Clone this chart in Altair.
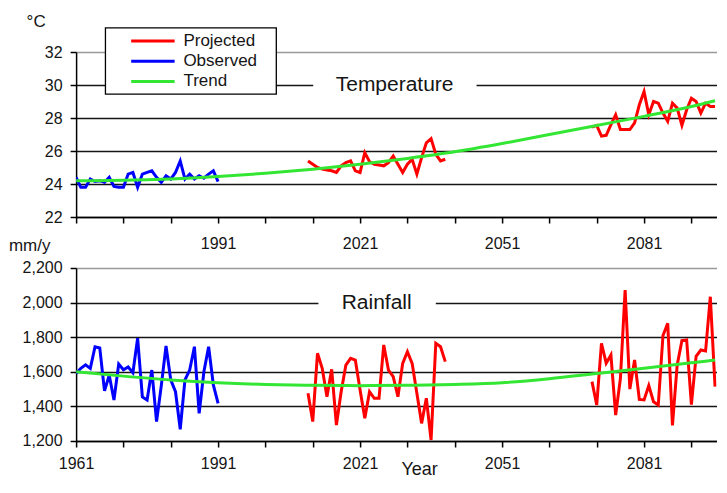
import altair as alt
import pandas as pd

# ---------------- data ----------------
OBS_YEARS = list(range(1961, 1992))
PROJ1_YEARS = list(range(2010, 2040))
PROJ2_YEARS = list(range(2070, 2097))
TREND_YEARS = [1961, 1971, 1981, 1991, 2001, 2011, 2021, 2031, 2041, 2051,
               2061, 2071, 2081, 2091, 2096]

TEMP_OBS = [24.4, 23.8, 23.8, 24.3, 24.15, 24.2, 24.1, 24.4, 23.85, 23.8, 23.8,
            24.6, 24.7, 23.8, 24.6, 24.7, 24.8, 24.4, 24.1, 24.5, 24.3, 24.7,
            25.4, 24.3, 24.6, 24.3, 24.5, 24.35, 24.6, 24.8, 24.15]
TEMP_PROJ1 = [25.4, 25.2, 25.0, 24.9, 24.85, 24.8, 24.7, 25.1, 25.3, 25.4, 24.8,
              24.7, 25.9, 25.35, 25.2, 25.15, 25.1, 25.3, 25.7, 25.2, 24.7, 25.2,
              25.5, 24.6, 25.6, 26.5, 26.75, 25.8, 25.4, 25.5]
TEMP_PROJ2 = [27.45, 27.55, 26.9, 26.95, 27.6, 28.2, 27.3, 27.3, 27.3, 27.7, 28.8,
              29.6, 28.2, 29.0, 28.9, 28.3, 27.8, 28.9, 28.6, 27.55, 28.5, 29.2,
              29.0, 28.3, 28.9, 28.7, 28.7]
TEMP_TREND = [24.2, 24.22, 24.3, 24.45, 24.65, 24.9, 25.2, 25.55, 25.95, 26.45,
              27.0, 27.55, 28.1, 28.7, 29.05]

RAIN_OBS = [1590, 1620, 1640, 1620, 1745, 1738, 1490, 1580, 1437, 1645, 1612,
            1628, 1595, 1794, 1455, 1437, 1610, 1312, 1520, 1749, 1553, 1485,
            1268, 1553, 1610, 1745, 1360, 1600, 1745, 1524, 1418]
RAIN_PROJ1 = [1476, 1312, 1707, 1620, 1456, 1614, 1292, 1485, 1639, 1678, 1668,
              1495, 1331, 1485, 1447, 1447, 1755, 1610, 1572, 1456, 1649, 1716,
              1649, 1476, 1302, 1447, 1206, 1765, 1745, 1659]
RAIN_PROJ2 = [1543, 1408, 1765, 1650, 1697, 1350, 1560, 2073, 1500, 1668, 1440,
              1437, 1520, 1427, 1408, 1810, 1880, 1290, 1640, 1780, 1784, 1410,
              1690, 1726, 1720, 2034, 1514]
RAIN_TREND = [1600, 1575, 1553, 1537, 1527, 1522, 1520, 1522, 1527, 1537,
              1560, 1590, 1620, 1652, 1668]

SERIES = ["Projected", "Observed", "Trend"]
COLORS = ["#ff0000", "#0000ff", "#33e633"]
WIDTHS = [3, 3, 2]

X_TICKS = list(range(1961, 2092, 10))
TOP_LABELS = [1991, 2021, 2051, 2081]
BOTTOM_LABELS = [1961, 1991, 2021, 2051, 2081]
TEMP_TICKS = [22, 24, 26, 28, 30, 32]
RAIN_TICKS = [1200, 1400, 1600, 1800, 2000, 2200]

# panel caption annotations (data coordinates): label, centre, white box extent
TEMP_NOTE = {"label": "Temperature", "year": 2028.3, "value": 30,
             "year_a": 2011.1, "year_b": 2045.6, "value_a": 29.35, "value_b": 30.65}
RAIN_NOTE = {"label": "Rainfall", "year": 2024.5, "value": 2000,
             "year_a": 2012.2, "year_b": 2037.0, "value_a": 1938, "value_b": 2062}
# legend frame (data coordinates of the top panel)
LEGEND_FRAME = {"year_a": 1967.2, "year_b": 2003.3, "value_a": 29.45, "value_b": 33.46}

PLOT_W = 640.5
X_DOMAIN = [1961, 1961 + PLOT_W / 4.733]
FONT = "Liberation Sans"
TXT = "#151515"


def series_frame(obs, p1, p2, trend):
    rows = []
    for y, v in zip(OBS_YEARS, obs):
        rows.append({"year": y, "value": v, "series": "Observed", "seg": "obs"})
    for y, v in zip(PROJ1_YEARS, p1):
        rows.append({"year": y, "value": v, "series": "Projected", "seg": "p1"})
    for y, v in zip(PROJ2_YEARS, p2):
        rows.append({"year": y, "value": v, "series": "Projected", "seg": "p2"})
    data = pd.DataFrame(rows)
    tr = pd.DataFrame({"year": TREND_YEARS, "value": trend,
                       "series": "Trend", "seg": "trend"})
    return data, tr


def x_axis(labels, title, title_x, title_y, pad, title_align, title_size):
    return alt.Axis(
        values=X_TICKS, format="d",
        labelExpr=f"indexof({labels}, datum.value) >= 0 ? datum.label : ''",
        labelFlush=False, labelOverlap=False,
        labelFont=FONT, labelFontSize=16, labelColor=TXT, labelPadding=pad,
        tickSize=6, tickColor="black", tickWidth=1.5,
        domainColor="black", domainWidth=1.5, grid=False,
        title=title, titleX=title_x, titleY=title_y, titleAngle=0,
        titleAlign=title_align, titleBaseline="alphabetic",
        titleFont=FONT, titleFontSize=title_size, titleFontWeight="normal",
        titleColor=TXT,
    )


def y_axis(ticks, fmt, title, title_x, title_y, top_value):
    return alt.Axis(
        values=ticks, format=fmt,
        labelFont=FONT, labelFontSize=16, labelColor=TXT, labelPadding=8,
        tickSize=6, tickColor="black", tickWidth=1.5,
        domainColor="black", domainWidth=1.5,
        grid=True, gridWidth=1.5,
        gridColor={"condition": {"test": f"datum.value == {top_value}", "value": "#9a9a9a"},
                   "value": "#151515"},
        title=title, titleX=title_x, titleY=title_y, titleAngle=0,
        titleAlign="left", titleBaseline="alphabetic",
        titleFont=FONT, titleFontSize=17, titleFontWeight="normal", titleColor=TXT,
        minExtent=60, maxExtent=60,
    )


def panel(obs, p1, p2, trend, ydomain, xax, yax, note, legend, height, frame=None):
    data, tr = series_frame(obs, p1, p2, trend)
    xs = alt.Scale(domain=X_DOMAIN, nice=False, zero=False)
    ys = alt.Scale(domain=ydomain, nice=False, zero=False)
    X = alt.X("year:Q", scale=xs, axis=xax)
    Y = alt.Y("value:Q", scale=ys, axis=yax)
    color = alt.Color("series:N", scale=alt.Scale(domain=SERIES, range=COLORS),
                      legend=legend)
    width = alt.StrokeWidth("series:N", scale=alt.Scale(domain=SERIES, range=WIDTHS),
                            legend=legend)

    layers = []
    note_df = pd.DataFrame([{"year": note["year_a"], "year2": note["year_b"],
                             "value": note["value_a"], "value2": note["value_b"]}])
    layers.append(alt.Chart(note_df).mark_rect(color="white").encode(
        x=X, x2="year2:Q", y=Y, y2="value2:Q"))
    if frame is not None:
        frame_df = pd.DataFrame([{"year": frame["year_a"], "year2": frame["year_b"],
                                  "value": frame["value_a"], "value2": frame["value_b"]}])
        layers.append(alt.Chart(frame_df).mark_rect(
            fill="white", stroke="black", strokeWidth=1.3).encode(
            x=X, x2="year2:Q", y=Y, y2="value2:Q"))
    text_df = pd.DataFrame([{"year": note["year"], "value": note["value"],
                             "label": note["label"]}])
    layers.append(alt.Chart(text_df).mark_text(
        font=FONT, fontSize=21, color=TXT, align="center", baseline="middle"
    ).encode(x=X, y=Y, text="label:N"))

    layers.append(alt.Chart(data).mark_line(clip=True).encode(
        x=X, y=Y, color=color, strokeWidth=width, detail="seg:N"))
    layers.append(alt.Chart(tr).mark_line(clip=True, interpolate="monotone").encode(
        x=X, y=Y, color=color, strokeWidth=width))
    return alt.layer(*layers).properties(width=PLOT_W, height=height)


legend_top = alt.Legend(
    orient="none", legendX=29.3, legendY=-23.5, title=None,
    symbolType="M-4,0H4", symbolSize=118, symbolOffset=35,
    labelOffset=22, labelFont=FONT, labelFontSize=17, labelColor=TXT,
    padding=4, rowPadding=2.2,
)

top = panel(
    TEMP_OBS, TEMP_PROJ1, TEMP_PROJ2, TEMP_TREND, [22, 32],
    x_axis(TOP_LABELS, "mm/y", -67.7, 34, 13, "left", 17),
    y_axis(TEMP_TICKS, "d", "°C", -50, -25.5, 32),
    TEMP_NOTE, legend_top, 165, frame=LEGEND_FRAME,
)
bottom = panel(
    RAIN_OBS, RAIN_PROJ1, RAIN_PROJ2, RAIN_TREND, [1200, 2200],
    x_axis(BOTTOM_LABELS, "Year", 343, 34, 8.5, "center", 18),
    y_axis(RAIN_TICKS, ",d", "", 0, 0, 2200),
    RAIN_NOTE, None, 173,
)

chart = alt.vconcat(top, bottom, spacing=6.0).resolve_scale(
    color="independent", strokeWidth="independent"
).resolve_legend(
    color="independent", strokeWidth="independent"
).properties(
    padding={"left": 0.1, "top": 4.0, "right": 0, "bottom": 0.5},
    background="white",
).configure_view(strokeWidth=0)

chart.save("out.html", embed_options={"renderer": "svg", "actions": False})
